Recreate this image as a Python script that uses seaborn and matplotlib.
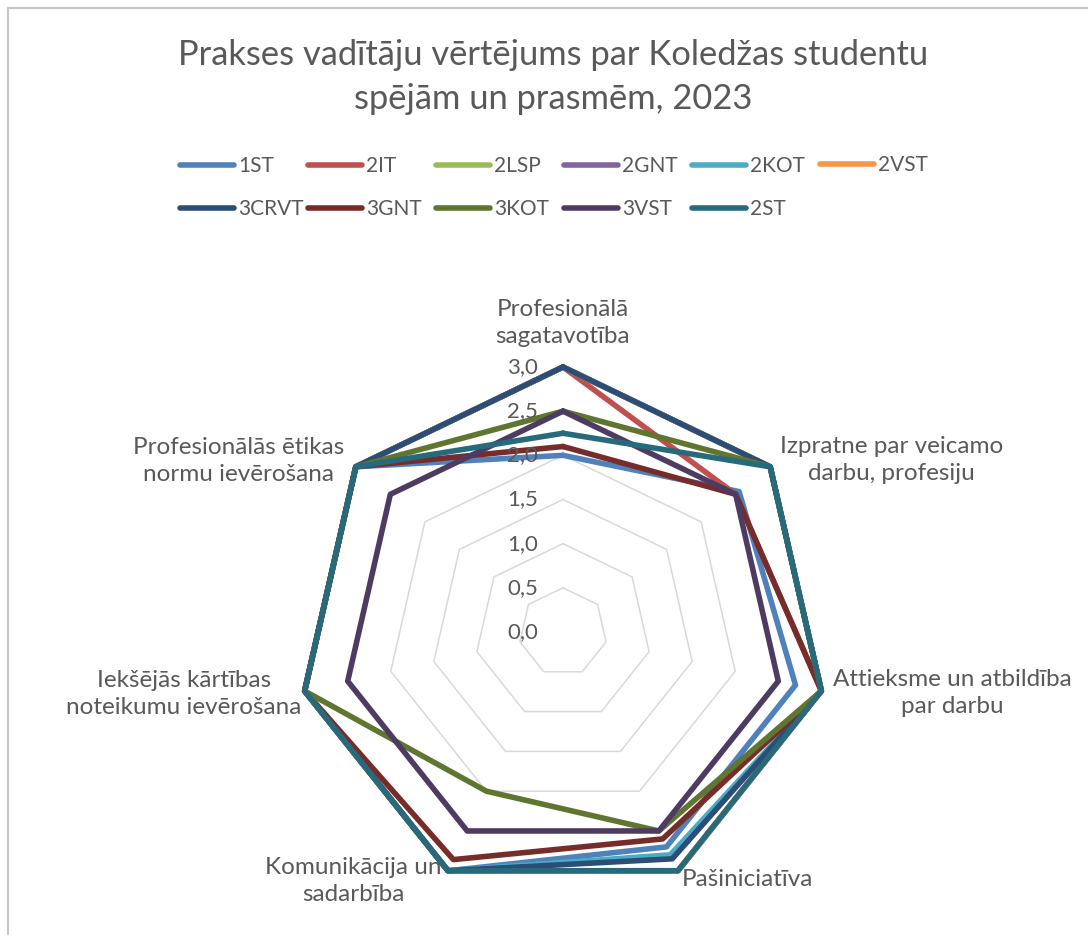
import numpy as np
import pandas as pd
import matplotlib
matplotlib.use("Agg")
import matplotlib.pyplot as plt
import matplotlib.transforms as mtransforms
from matplotlib.lines import Line2D
import seaborn as sns

# ---------------- data ----------------
categories = [
    "Profesionālā\nsagatavotība",
    "Izpratne par veicamo\ndarbu, profesiju",
    "Attieksme un atbildība\npar darbu",
    "Pašiniciatīva",
    "Komunikācija un\nsadarbība",
    "Iekšējās kārtības\nnoteikumu ievērošana",
    "Profesionālās ētikas\nnormu ievērošana",
]
series_names = ["1ST", "2IT", "2LSP", "2GNT", "2KOT", "2VST",
                "3CRVT", "3GNT", "3KOT", "3VST", "2ST"]
v_1ST = [2.0, 2.55, 2.7, 2.7, 3.0, 3.0, 3.0]
v_2IT = [3.0, 2.5, 3.0, 3.0, 3.0, 3.0, 3.0]
v_2LSP = [3.0, 3.0, 3.0, 3.0, 3.0, 3.0, 3.0]
v_2GNT = [3.0, 3.0, 3.0, 3.0, 3.0, 3.0, 3.0]
v_2KOT = [3.0, 3.0, 3.0, 2.8, 3.0, 3.0, 3.0]
v_2VST = [3.0, 3.0, 3.0, 3.0, 3.0, 3.0, 3.0]
v_3CRVT = [3.0, 3.0, 3.0, 2.85, 3.0, 3.0, 3.0]
v_3GNT = [2.1, 2.5, 3.0, 2.6, 2.86, 3.0, 3.0]
v_3KOT = [2.5, 3.0, 3.0, 2.5, 2.0, 3.0, 3.0]
v_3VST = [2.5, 2.5, 2.5, 2.5, 2.5, 2.5, 2.5]
v_2ST = [2.25, 3.0, 3.0, 3.0, 3.0, 3.0, 3.0]
series_values = [v_1ST, v_2IT, v_2LSP, v_2GNT, v_2KOT, v_2VST,
                 v_3CRVT, v_3GNT, v_3KOT, v_3VST, v_2ST]
colors = ["#4F81BD", "#C0504D", "#9BBB59", "#8064A2", "#4BACC6", "#F79646",
          "#2C4D75", "#772C2A", "#5F7530", "#4D3B62", "#276A7C"]
ticks = [0.0, 0.5, 1.0, 1.5, 2.0, 2.5, 3.0]
tick_labels = ["0,0", "0,5", "1,0", "1,5", "2,0", "2,5", "3,0"]
title = "Prakses vadītāju vērtējums par Koledžas studentu\nspējām un prasmēm, 2023"

# ---------------- style ----------------
sns.set_theme(style="white")
plt.rcParams["font.family"] = ["Lato", "DejaVu Sans"]
TXT = "#595959"

W, H = 1088, 935
fig = plt.figure(figsize=(W / 100, H / 100), dpi=100)
fig.patch.set_facecolor("white")

cx, cy, R = 563, 632, 265
ax = fig.add_axes([(cx - R) / W, 1 - (cy + R) / H, 2 * R / W, 2 * R / H],
                  projection="polar")
ax.set_theta_offset(np.pi / 2)
ax.set_theta_direction(-1)
ax.set_facecolor("none")

n = len(categories)
angles = np.linspace(0, 2 * np.pi, n, endpoint=False)
ang_closed = np.append(angles, 2 * np.pi)

# heptagonal grid
for t in ticks[1:]:
    ax.plot(ang_closed, [t] * (n + 1), color="#d9d9d9", lw=1.1, zorder=1,
            clip_on=False)

# data frame
rows = []
for name, vals in zip(series_names, series_values):
    closed = list(vals) + [vals[0]]
    for th, v in zip(ang_closed, closed):
        rows.append({"theta": th, "value": v, "series": name})
df = pd.DataFrame(rows)

sns.lineplot(data=df, x="theta", y="value", hue="series",
             hue_order=series_names, palette=dict(zip(series_names, colors)),
             sort=False, estimator=None, lw=4.0, legend=False, ax=ax,
             solid_joinstyle="round", solid_capstyle="round", clip_on=False,
             zorder=3)

ax.set_ylim(0, 3)
ax.set_xticks([])
ax.set_yticks([])
ax.grid(False)
ax.spines["polar"].set_visible(False)
ax.set_xlabel("")
ax.set_ylabel("")

# radial tick labels
tick_tr = mtransforms.offset_copy(ax.transData, fig=fig, x=-25, y=0, units="dots")
for t, lab in zip(ticks, tick_labels):
    ax.text(0, t, lab, transform=tick_tr, ha="right", va="center",
            fontsize=16, color=TXT)

# category labels (offsets in pixels from the 3.0 vertex)
label_offsets = [(0, 44), (121, 7), (131, -2), (69, -9), (-95, -10), (-121, -3), (-117, 6)]
for th, lab, (dx, dy) in zip(angles, categories, label_offsets):
    tr = mtransforms.offset_copy(ax.transData, fig=fig, x=dx, y=dy, units="dots")
    ax.text(th, 3.0, lab, transform=tr, ha="center", va="center",
            fontsize=17.5, color=TXT, linespacing=1.33, multialignment="center")

# title
fig.text(553 / W, 1 - 77 / H, title, ha="center", va="center", fontsize=24.8,
         color=TXT, linespacing=1.45)

# legend: one legend per column, equal column spacing as in the source
ncol = 6
col_x0, col_step = 180, 128
row1_single, row_mid = 165, 187.5
for c in range(ncol):
    idx = [i for i in range(len(series_names)) if i % ncol == c]
    handles = [Line2D([], [], color=colors[i], lw=4, solid_capstyle="round") for i in idx]
    labels = [series_names[i] for i in idx]
    ymid = row_mid if len(idx) > 1 else row1_single
    fig.legend(handles, labels, loc="center left",
               bbox_to_anchor=((col_x0 + c * col_step) / W, 1 - ymid / H),
               frameon=False, fontsize=15, handlelength=2.6, handletextpad=0.2,
               borderpad=0, borderaxespad=0, labelspacing=1.1, labelcolor=TXT)

# chart border (left and top visible)
fig.add_artist(Line2D([8 / W, 8 / W], [0, 1 - 8 / H], transform=fig.transFigure,
                      color="#c6c6c6", lw=1.5))
fig.add_artist(Line2D([8 / W, 1], [1 - 8 / H, 1 - 8 / H], transform=fig.transFigure,
                      color="#c6c6c6", lw=1.5))

fig.savefig("out.png", dpi=100, facecolor="white")
